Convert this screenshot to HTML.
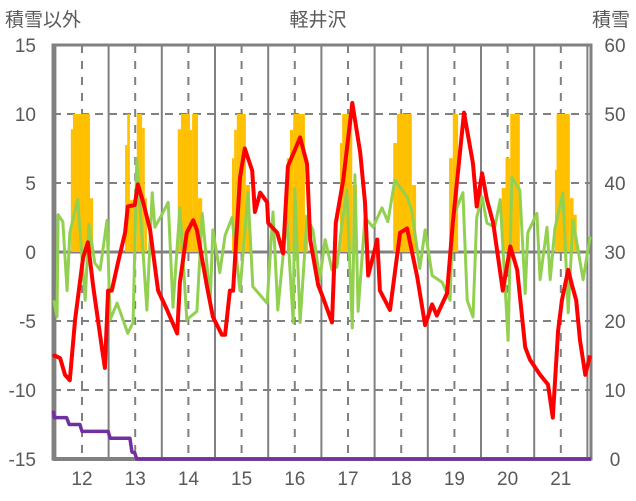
<!DOCTYPE html>
<html><head><meta charset="utf-8">
<style>
html,body{margin:0;padding:0;background:#fff;}
svg{display:block;font-family:"Liberation Sans","Noto Sans CJK JP",sans-serif;}
</style></head>
<body>
<svg id="chart" width="636" height="501" viewBox="0 0 636 501">
<text x="5" y="26" font-size="19" fill="#595959">積雪以外</text>
<text x="318" y="26" font-size="19" fill="#595959" text-anchor="middle">軽井沢</text>
<text x="630" y="26" font-size="19" fill="#595959" text-anchor="end">積雪</text>
<g id="grid"></g>
<g id="snow"></g>
<g id="frame"></g>
<g id="lines"></g>
<g id="labels"></g>
</svg>
<script>
const years=[12,13,14,15,16,17,18,19,20,21];
const leftTicks=[15,10,5,0,-5,-10,-15];
const rightTicks=[60,50,40,30,20,10,0];
const redT=[11.45,11.49,11.59,11.68,11.77,11.87,12.02,12.11,12.21,12.38,12.43,12.49,12.56,12.68,12.81,12.86,12.99,13.05,13.15,13.28,13.43,13.60,13.79,13.84,13.97,14.09,14.16,14.35,14.46,14.63,14.69,14.78,14.84,14.97,15.06,15.20,15.25,15.35,15.48,15.50,15.67,15.78,15.87,16.10,16.23,16.29,16.44,16.53,16.70,16.77,16.91,17.08,17.23,17.32,17.38,17.55,17.60,17.79,17.98,18.11,18.30,18.45,18.58,18.67,18.86,18.97,19.18,19.35,19.42,19.52,19.61,19.73,19.91,20.05,20.18,20.33,20.42,20.61,20.76,20.85,20.95,21.02,21.14,21.21,21.29,21.36,21.46,21.55];
const redV=[-7.6,-7.5,-7.7,-8.9,-9.3,-4.9,-0.4,0.7,-2.5,-7.1,-8.4,-2.8,-2.8,-0.7,1.4,3.3,3.4,4.9,3.6,1.6,-2.8,-4.2,-5.9,-2.2,1.4,2.3,1.6,-2.5,-4.7,-6.0,-6.0,-2.8,-2.8,5.4,7.5,5.9,2.9,4.3,3.6,2.1,1.4,-0.1,6.2,8.3,6.4,0.9,-2.4,-3.3,-5.1,2.1,5.2,10.8,7.2,3.6,-1.7,0.9,-2.8,-4.2,1.4,1.7,-1.8,-5.3,-3.8,-4.6,-3.0,2.1,10.1,6.4,3.3,5.7,3.8,2.1,-2.8,0.4,-1.3,-6.9,-7.8,-8.9,-9.6,-12.0,-5.7,-3.5,-1.3,-2.4,-3.5,-6.4,-8.9,-7.5];
const greenT=[11.47,11.53,11.55,11.64,11.72,11.77,11.92,12.06,12.13,12.24,12.34,12.47,12.53,12.66,12.86,12.96,13.03,13.22,13.32,13.37,13.50,13.62,13.71,13.84,13.97,14.16,14.26,14.41,14.46,14.59,14.69,14.82,14.97,15.12,15.21,15.48,15.59,15.68,15.85,15.97,16.00,16.10,16.23,16.34,16.47,16.57,16.70,16.79,16.89,16.98,17.08,17.13,17.19,17.32,17.47,17.64,17.75,17.88,18.11,18.20,18.35,18.45,18.58,18.77,18.92,18.97,19.16,19.24,19.35,19.42,19.52,19.61,19.76,19.86,20.01,20.08,20.23,20.33,20.38,20.55,20.61,20.74,20.80,20.89,21.04,21.14,21.23,21.42,21.55];
const greenV=[-3.5,-4.7,2.7,2.2,-2.8,1.4,3.8,-3.5,2.0,-0.8,-1.3,2.3,-4.9,-3.7,-5.9,-5.1,6.8,-4.2,4.3,1.8,2.7,3.6,-4.0,3.2,-4.9,-4.3,2.8,-3.5,1.6,-1.5,1.2,2.5,-2.8,4.3,-2.5,-3.7,2.9,-4.2,2.5,-5.1,4.6,-5.1,2.5,1.6,-2.0,0.9,-1.3,-1.1,2.1,4.5,-5.5,5.6,-4.3,2.5,1.8,3.2,2.2,5.2,4.0,3.0,-1.2,1.6,-1.7,-2.2,-3.5,2.5,4.3,-3.5,-4.7,2.5,4.0,2.1,1.8,3.8,-6.4,5.4,4.5,-3.0,1.4,2.8,-2.0,1.8,-2.0,1.7,4.3,-4.4,2.3,-2.0,1.1];
const snowStart=[11.79,11.83,12.15,12.81,12.85,12.90,13.03,13.13,13.18,13.80,13.86,14.03,14.07,14.18,14.82,14.86,14.91,15.08,15.85,15.91,15.97,16.19,16.85,16.89,17.08,17.85,17.92,18.20,18.90,18.97,19.89,19.96,20.05,20.89,20.92,21.17,21.24];
const snowEnd=[11.83,12.15,12.21,12.85,12.90,13.03,13.13,13.18,13.22,13.86,14.03,14.07,14.18,14.26,14.86,14.91,15.08,15.16,15.91,15.97,16.19,16.25,16.89,17.08,17.17,17.92,18.20,18.28,18.97,19.07,19.96,20.05,20.23,20.92,21.17,21.24,21.30];
const snowDepth=[47.8,50,37.8,45.5,50,37.5,50,48,37.8,47.8,50,47.7,50,37.8,43.6,47.7,50,39.7,43.6,47.7,50,35.4,45.8,50,39.7,45.8,50,39.7,43.6,50,39.3,43.6,50,41.9,50,37.8,35.4];
const purpleT=[11.46,11.48,11.71,11.76,11.96,12.0,12.49,12.53,12.90,12.94,12.99,13.03,21.6];
const purpleV=[7.0,6.0,6.0,5.0,5.0,4.0,4.0,3.0,3.0,1.0,0.9,0,0];

const X0=53,X1=591,Y0=45,Y1=459;
function xs(t){return 82+(t-12)*53.2;}
function yl(v){return Y1-(v+15)/30*(Y1-Y0);}
function yr(v){return Y1-v/60*(Y1-Y0);}
const NS='http://www.w3.org/2000/svg';
function mk(tag,attrs,parent){const e=document.createElementNS(NS,tag);for(const k in attrs)e.setAttribute(k,attrs[k]);document.getElementById(parent).appendChild(e);return e;}

leftTicks.forEach(v=>{
  if(v===15||v===-15)return;
  const l=mk('line',{x1:X0,x2:X1,y1:yl(v),y2:yl(v),stroke:'#808080','stroke-width':v===0?3:2,'stroke-dasharray':v===0?'none':'8,6'},'grid');
  
  
});
years.forEach(yv=>{
  const d=mk('line',{x1:xs(yv),x2:xs(yv),y1:Y0,y2:Y1,stroke:'#808080','stroke-width':2,'stroke-dasharray':'8,8'},'grid');
  
  
  const s=mk('line',{x1:xs(yv+0.5),x2:xs(yv+0.5),y1:Y0,y2:Y1,stroke:'#808080','stroke-width':2},'grid');
  
  
  if(yv===12){const s2=mk('line',{x1:xs(yv-0.5),x2:xs(yv-0.5),y1:Y0,y2:Y1,stroke:'#808080','stroke-width':2},'grid');
  
  }
});
snowStart.forEach((s,i)=>{
  const top=yr(snowDepth[i]),base=yr(30);
  const r=mk('rect',{x:xs(s),y:top,width:Math.max(0.5,xs(snowEnd[i])-xs(s)),height:base-top,fill:'#ffc000'},'snow');
  
  
});
function line(T,V,yf,color,w,name){
  const d=T.map((t,i)=>(i?'L':'M')+Math.max(X0,Math.min(X1,xs(t))).toFixed(1)+','+yf(V[i]).toFixed(1)).join('');
  const p=mk('path',{d:d,fill:'none',stroke:color,'stroke-width':w,'stroke-linejoin':'round'},'lines');
  
  
}
const fr=mk('rect',{x:X0,y:Y0,width:X1-X0,height:Y1-Y0,fill:'none',stroke:'#808080','stroke-width':3},'frame');


const bl=mk('line',{x1:X0,x2:X1,y1:Y1,y2:Y1,stroke:'#808080','stroke-width':4},'frame');


line(greenT,greenV,yl,'#92d050',3,'green-series-line');
line(redT,redV,yl,'#ff0000',4,'red-series-line');
line(purpleT,purpleV,yr,'#7030a0',3.5,'purple-snow-line');
leftTicks.forEach(v=>{
  const t=mk('text',{x:36,y:yl(v)+7,'font-size':19,fill:'#595959','text-anchor':'end'},'labels');
  t.textContent=v;
  
  
});
rightTicks.forEach(v=>{
  const t=mk('text',{x:615,y:yr(v)+7,'font-size':19,fill:'#595959','text-anchor':'middle'},'labels');
  t.textContent=v;
  
  
});
years.forEach(yv=>{
  const t=mk('text',{x:xs(yv),y:485,'font-size':19,fill:'#595959','text-anchor':'middle'},'labels');
  t.textContent=yv;
  
  
});
</script>
</body></html>
